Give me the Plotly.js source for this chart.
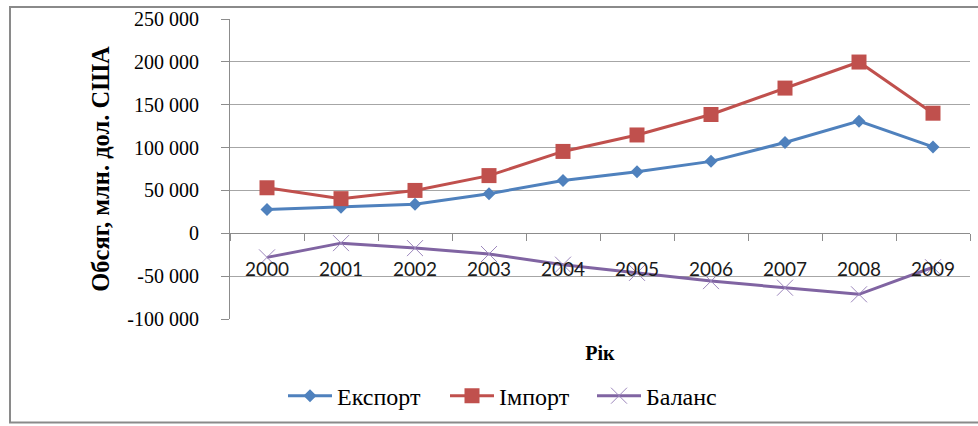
<!DOCTYPE html>
<html>
<head>
<meta charset="utf-8">
<script src="https://cdn.plot.ly/plotly-3.0.1.min.js"></script>
<style>
  html, body { margin: 0; padding: 0; background: #ffffff; }
  #chart { width: 978px; height: 426px; }
</style>
</head>
<body>
<div id="chart"></div>
<script>
// ---- data ----
const years = ["2000", "2001", "2002", "2003", "2004", "2005", "2006", "2007", "2008", "2009"];
const exportValues = [27700, 30400, 33800, 46200, 61500, 71900, 83900, 105900, 130800, 100800];
const importValues = [53100, 40400, 50000, 67300, 95500, 114700, 138600, 169400, 199800, 140100];
const balanceValues = [-28100, -11500, -17300, -24200, -36600, -46200, -55800, -63500, -71200, -39600];
const seriesNames = ["Експорт", "Імпорт", "Баланс"];
const yTickVals = [-100000, -50000, 0, 50000, 100000, 150000, 200000, 250000];
const yTickText = ["-100 000", "-50 000", "0", "50 000", "100 000", "150 000", "200 000", "250 000"];
const yAxisTitle = "Обсяг, млн. дол. США";
const xAxisTitle = "Рік";

const serif = "Liberation Serif";

const traces = [
  {
    x: years, y: exportValues, name: seriesNames[0], type: "scatter", mode: "lines+markers",
    legend: "legend",
    line: { color: "#4F81BD", width: 3 },
    marker: { symbol: "diamond", size: 10, color: "#4F81BD" }
  },
  {
    x: years, y: importValues, name: seriesNames[1], type: "scatter", mode: "lines+markers",
    legend: "legend2",
    line: { color: "#C0504D", width: 3 },
    marker: { symbol: "square", size: 15, color: "#C0504D" }
  },
  {
    x: years, y: balanceValues, name: seriesNames[2], type: "scatter", mode: "lines+markers",
    legend: "legend3",
    line: { color: "#8064A2", width: 3 },
    marker: { symbol: "x-thin", size: 16, color: "#9C86BC", line: { color: "#9C86BC", width: 1 } }
  }
];

function legendAt(px) {
  return {
    orientation: "h",
    x: (px - 230) / 740, xanchor: "left",
    y: -0.257, yanchor: "middle",
    font: { family: serif, size: 24, color: "#000000" },
    itemwidth: 44,
    bgcolor: "rgba(0,0,0,0)",
    borderwidth: 0
  };
}

const layout = {
  width: 978, height: 426,
  margin: { l: 230, r: 8, t: 19, b: 104 },
  paper_bgcolor: "#ffffff",
  plot_bgcolor: "#ffffff",
  showlegend: true,
  legend: legendAt(283),
  legend2: legendAt(445),
  legend3: legendAt(592),
  xaxis: {
    type: "category",
    range: [-0.5, 9.5],
    anchor: "free",
    position: 100000 / 350000,
    showgrid: false,
    zeroline: false,
    showline: true,
    linecolor: "#8c8c8c",
    linewidth: 1,
    ticks: "outside",
    tickson: "boundaries",
    ticklen: 7,
    tickcolor: "#8c8c8c",
    ticklabelstandoff: 19,
    tickfont: { family: "Lato", size: 19, color: "#1a1a1a" },
    title: { text: xAxisTitle, font: { family: serif, size: 20, color: "#000000", weight: "bold" }, standoff: 66 }
  },
  yaxis: {
    range: [-100000, 250000],
    tickvals: yTickVals,
    ticktext: yTickText,
    showgrid: true,
    gridcolor: "#a6a6a6",
    gridwidth: 1,
    zeroline: false,
    showline: true,
    linecolor: "#8c8c8c",
    linewidth: 1,
    ticks: "outside",
    ticklen: 8,
    tickcolor: "#8c8c8c",
    ticklabelstandoff: 18,
    tickfont: { family: serif, size: 20, color: "#000000" },
    title: { text: yAxisTitle, font: { family: serif, size: 24.5, color: "#000000", weight: "bold" }, standoff: 10 }
  },
  shapes: [
    {
      type: "rect", xref: "paper", yref: "paper",
      x0: -0.2973, x1: 1.2, y0: -0.345, y1: 1.0396,
      line: { color: "#8a8a8a", width: 2 },
      fillcolor: "rgba(0,0,0,0)",
      layer: "below"
    }
  ]
};

Plotly.newPlot("chart", traces, layout, { staticPlot: true, displayModeBar: false });
</script>
</body>
</html>
